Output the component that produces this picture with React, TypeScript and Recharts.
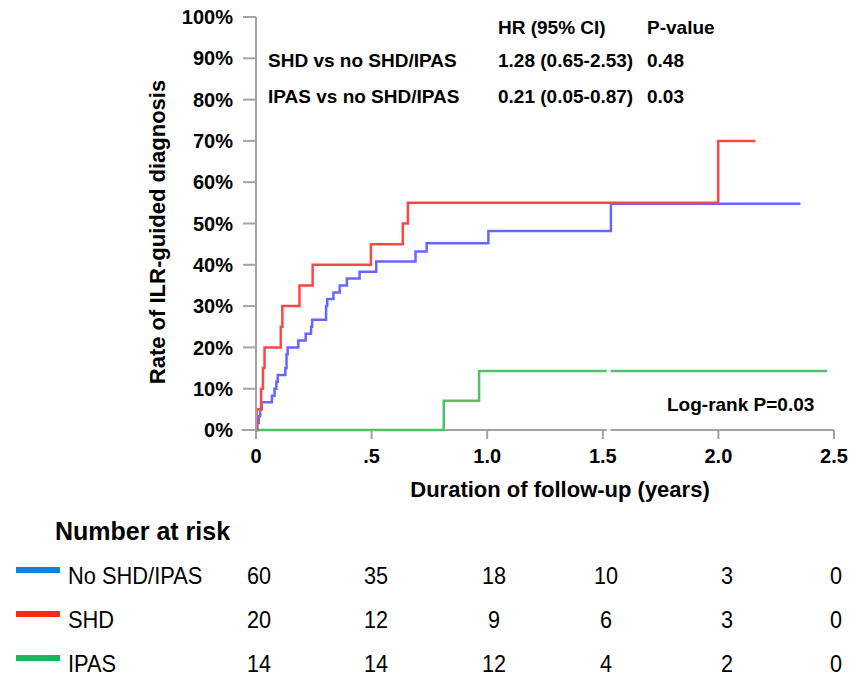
import React from 'react';
import { LineChart, Line, XAxis, YAxis, ReferenceLine } from 'recharts';

// ---- data ----
const xTicks = [0, 0.5, 1, 1.5, 2, 2.5];
const xTickLabels = ['0', '.5', '1.0', '1.5', '2.0', '2.5'];
const yTicks = [0, 10, 20, 30, 40, 50, 60, 70, 80, 90, 100];

const noShdTimes = [0, 0.006, 0.012, 0.018, 0.025, 0.069, 0.08, 0.088, 0.094, 0.127, 0.132, 0.137, 0.183, 0.215, 0.238, 0.243, 0.303, 0.308, 0.335, 0.362, 0.393, 0.448, 0.52, 0.69, 0.738, 1.005, 1.535, 2.355];
const noShdRates = [0, 1.7, 3.3, 5, 6.7, 8.3, 10, 11.7, 13.3, 15, 18.3, 20, 21.7, 23.3, 25, 26.7, 30, 31.7, 33.3, 35, 36.7, 38.3, 40.8, 43.2, 45.2, 48.2, 54.8, 54.8];

const shdTimes = [0, 0.003, 0.022, 0.03, 0.037, 0.107, 0.114, 0.188, 0.245, 0.497, 0.635, 0.657, 1.999, 2.16];
const shdRates = [0, 5, 10, 15, 20, 25, 30, 35, 40, 45, 50, 55, 70, 70];

const ipasTimes = [0, 0.812, 0.965, 1.517, 1.525, 1.533, 2.47];
const ipasRates: (number | null)[] = [0, 7.1, 14.3, 14.3, null, 14.3, 14.3];

const groups = ['No SHD/IPAS', 'SHD', 'IPAS'];
const riskNoShd = [60, 35, 18, 10, 3, 0];
const riskShd = [20, 12, 9, 6, 3, 0];
const riskIpas = [14, 14, 12, 4, 2, 0];

const hrHeader = ['HR (95% CI)', 'P-value'];
const hrComparisons = ['SHD vs no SHD/IPAS', 'IPAS vs no SHD/IPAS'];
const hrValues = ['1.28 (0.65-2.53)', '0.21 (0.05-0.87)'];
const pValues = ['0.48', '0.03'];
const logRankText = 'Log-rank P=0.03';

// ---- styles ----
const FONT = "'Liberation Sans', Arial, Helvetica, sans-serif";
const AXIS_GRAY = '#a3a3a3';
const LINE_BLUE = '#6767ff';
const LINE_RED = '#ff4646';
const LINE_GREEN = '#52c266';
const SW_BLUE = '#1a7fd4';
const SW_RED = '#ff2a12';
const SW_GREEN = '#1bb55f';

const toData = (ts: number[], vs: (number | null)[]) => ts.map((t, i) => ({ t, v: vs[i] }));
const noShdData = toData(noShdTimes, noShdRates);
const shdData = toData(shdTimes, shdRates);
const ipasData = toData(ipasTimes, ipasRates);

const T = ({ x, y, children, size = 19, bold = true, anchor = 'left', sx = 1 }: any) => (
  <div
    style={{
      position: 'absolute',
      left: x,
      top: y - 15,
      height: 30,
      lineHeight: '30px',
      fontSize: size,
      fontWeight: bold ? 'bold' : 'normal',
      fontFamily: FONT,
      whiteSpace: 'nowrap',
      color: '#000',
      transform: `${anchor === 'center' ? 'translateX(-50%) ' : ''}scaleX(${sx})`,
      transformOrigin: anchor === 'center' ? '0 50%' : '0 50%',
    }}
  >
    {children}
  </div>
);

const riskCols = [259, 376, 494, 606, 727, 836];
const rowYs = [576, 620, 664];
const swatchColors = [SW_BLUE, SW_RED, SW_GREEN];
const risks = [riskNoShd, riskShd, riskIpas];

export default function App() {
  return (
    <div style={{ position: 'absolute', left: 0, top: 0, width: 860, height: 678, background: '#fff', fontFamily: FONT }}>
      <LineChart width={860} height={510} margin={{ top: 17, right: 26, left: 0, bottom: 0 }}>
        <XAxis
          type="number"
          dataKey="t"
          domain={[0, 2.5]}
          ticks={xTicks}
          tickFormatter={(v: number) => xTickLabels[xTicks.indexOf(v)] ?? String(v)}
          axisLine={false}
          tickLine={{ stroke: AXIS_GRAY, strokeWidth: 2 }}
          tickSize={9}
          tickMargin={10}
          height={80}
          tick={{ fill: '#000', fontSize: 20, fontWeight: 'bold', fontFamily: FONT }}
          interval={0}
        />
        <YAxis
          type="number"
          dataKey="v"
          domain={[0, 100]}
          ticks={yTicks}
          tickFormatter={(v: number) => `${v}%`}
          width={256}
          axisLine={{ stroke: AXIS_GRAY, strokeWidth: 2 }}
          tickLine={{ stroke: AXIS_GRAY, strokeWidth: 2 }}
          tickSize={13}
          tickMargin={10}
          tick={{ fill: '#000', fontSize: 20, fontWeight: 'bold', fontFamily: FONT }}
          interval={0}
        />
        <ReferenceLine
          segment={[{ x: -0.062, y: 0 }, { x: 1.517, y: 0 }]}
          stroke={AXIS_GRAY}
          strokeWidth={2}
          ifOverflow="visible"
        />
        <ReferenceLine
          segment={[{ x: 1.533, y: 0 }, { x: 2.5, y: 0 }]}
          stroke={AXIS_GRAY}
          strokeWidth={2}
          ifOverflow="visible"
        />
        <Line data={ipasData} dataKey="v" type="stepAfter" stroke={LINE_GREEN} strokeWidth={2.5} dot={false} isAnimationActive={false} connectNulls={false} />
        <Line data={noShdData} dataKey="v" type="stepAfter" stroke={LINE_BLUE} strokeWidth={2.5} dot={false} isAnimationActive={false} />
        <Line data={shdData} dataKey="v" type="stepAfter" stroke={LINE_RED} strokeWidth={2.5} dot={false} isAnimationActive={false} />
      </LineChart>

      {/* axis titles */}
      <div
        style={{
          position: 'absolute',
          left: 158,
          top: 232,
          transform: 'translate(-50%, -50%) rotate(-90deg)',
          fontSize: 22,
          fontWeight: 'bold',
          whiteSpace: 'nowrap',
          fontFamily: FONT,
        }}
      >
        Rate of ILR-guided diagnosis
      </div>
      <div
        style={{
          position: 'absolute',
          left: 560,
          top: 490,
          transform: 'translate(-50%, -50%)',
          fontSize: 22,
          fontWeight: 'bold',
          whiteSpace: 'nowrap',
          fontFamily: FONT,
        }}
      >
        Duration of follow-up (years)
      </div>

      {/* HR table */}
      <T x={498} y={28}>{hrHeader[0]}</T>
      <T x={647} y={28}>{hrHeader[1]}</T>
      {hrComparisons.map((c, i) => (
        <React.Fragment key={c}>
          <T x={268} y={61 + i * 36}>{c}</T>
          <T x={498} y={61 + i * 36}>{hrValues[i]}</T>
          <T x={647} y={61 + i * 36}>{pValues[i]}</T>
        </React.Fragment>
      ))}
      <T x={667} y={405}>{logRankText}</T>

      {/* number at risk */}
      <T x={55} y={531} size={25}>Number at risk</T>
      {groups.map((g, i) => (
        <React.Fragment key={g}>
          <div style={{ position: 'absolute', left: 16, top: rowYs[i] - 9, width: 44, height: 6, background: swatchColors[i] }} />
          <T x={68} y={rowYs[i]} size={24} bold={false} sx={0.91}>{g}</T>
          {risks[i].map((n, j) => (
            <div
              key={j}
              style={{
                position: 'absolute',
                left: riskCols[j] - 30,
                width: 60,
                top: rowYs[i] - 15,
                lineHeight: '30px',
                textAlign: 'center',
                fontSize: 24,
                fontFamily: FONT,
                transform: 'scaleX(0.9)',
              }}
            >
              {n}
            </div>
          ))}
        </React.Fragment>
      ))}
    </div>
  );
}
